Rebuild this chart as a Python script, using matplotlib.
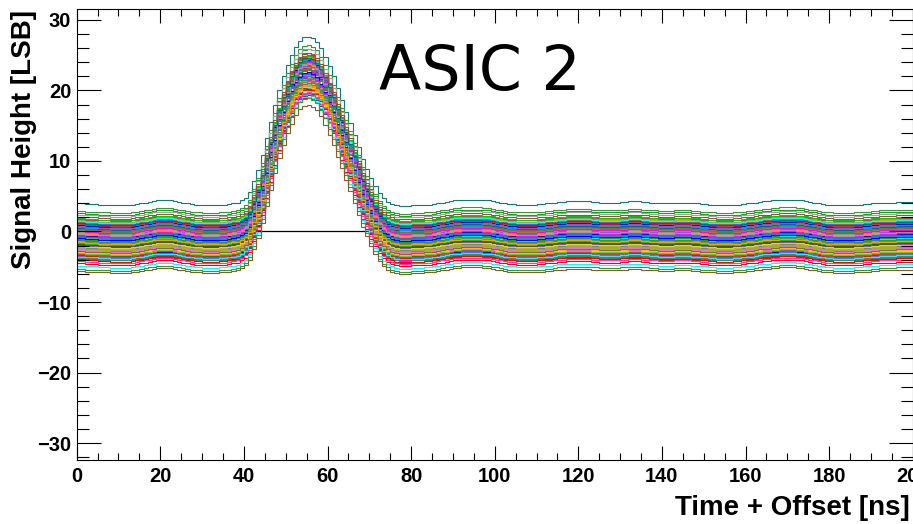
import numpy as np
import matplotlib
matplotlib.use("Agg")
from matplotlib import pyplot as plt
from matplotlib.ticker import MultipleLocator

# bin edges, 1 ns bins
edges = np.arange(0, 201, 1)

# reference waveform (LSB), baseline 0
ref = [
    0.0, 0.0, -0.1, -0.1, -0.1, -0.2, -0.2, -0.2, -0.3, -0.3,
    -0.3, -0.3, -0.3, -0.2, -0.1, 0.0, 0.1, 0.2, 0.3, 0.4,
    0.4, 0.4, 0.4, 0.3, 0.2, 0.1, 0.0, -0.1, -0.2, -0.2,
    -0.3, -0.3, -0.3, -0.3, -0.2, -0.2, -0.1, 0.0, 0.1, 0.4,
    0.8, 1.6, 3.1, 4.7, 6.8, 9.2, 11.5, 13.9, 16.0, 17.9,
    19.5, 20.9, 22.1, 22.9, 23.4, 23.5, 23.3, 22.8, 21.9, 20.7,
    19.3, 17.9, 16.2, 14.6, 12.9, 11.3, 9.6, 8.0, 6.3, 4.9,
    3.5, 2.4, 1.4, 0.7, 0.2, -0.1, -0.3, -0.4, -0.4, -0.4,
    -0.3, -0.3, -0.3, -0.2, -0.2, -0.1, 0.0, 0.1, 0.2, 0.3,
    0.4, 0.4, 0.5, 0.5, 0.5, 0.5, 0.5, 0.4, 0.4, 0.3,
    0.2, 0.1, 0.0, -0.1, -0.1, -0.2, -0.2, -0.2, -0.2, -0.2,
    -0.1, -0.1, 0.0, 0.0, 0.1, 0.2, 0.2, 0.3, 0.3, 0.3,
    0.3, 0.3, 0.3, 0.2, 0.2, 0.1, 0.1, 0.1, 0.1, 0.1,
    0.2, 0.2, 0.3, 0.3, 0.3, 0.2, 0.2, 0.1, 0.1, 0.0,
    0.0, 0.0, 0.0, 0.1, 0.1, 0.1, 0.1, 0.0, 0.0, -0.1,
    -0.1, -0.2, -0.2, -0.3, -0.3, -0.3, -0.3, -0.2, -0.2, -0.1,
    0.0, 0.0, 0.1, 0.2, 0.3, 0.3, 0.4, 0.4, 0.5, 0.5,
    0.5, 0.5, 0.4, 0.4, 0.3, 0.2, 0.1, 0.0, -0.1, -0.2,
    -0.2, -0.3, -0.3, -0.3, -0.3, -0.3, -0.2, -0.2, -0.1, -0.1,
    0.0, 0.0, 0.1, 0.1, 0.1, 0.1, 0.2, 0.2, 0.2, 0.2,
]

# outermost channels (easy to pick out)
outer_base = [4.0, 2.9, 2.6, 2.4, 2.1, -4.2, -4.5, -4.85, -5.3, -5.6]
outer_gain = [1.005, 1.0, 0.99, 1.0, 0.985, 1.02, 1.0, 1.02, 1.03, 1.0]
outer_color = ["#127878", "#2e9e2e", "#229922", "#a0a0a0", "#8b5a2b",
               "#ff33cc", "#ff0000", "#00ffff", "#2e9e2e", "#8b5a2b"]

# the dense band
mid_base = [0.3, -1.2, 1.1, -2.6, -0.4, 0.9, -3.1, -1.8, 0.6, -2.2,
            1.5, -0.9, -3.5, 0.1, -1.5, -2.9, 1.3, -0.6, -2.0, 0.8,
            -3.3, -1.1, 0.4, -2.4, -0.2, 1.0, -3.8, -1.7, 0.0, -2.7,
            1.4, -0.8, -2.1, 0.5, -3.0, -1.3, 0.7, -2.5, -0.3, 1.2,
            -3.6, -1.9, 0.2, -2.8, -0.7, 1.6, -1.4, -3.2, 0.9, -2.3,
            -0.5, -1.0, 0.3, -2.6, -3.4, 1.1, -1.6, -0.1, -2.0, 0.6,
            -3.7, -1.2, 1.3, -2.9, -0.4, -1.8, 0.0, -2.4, -3.1, 0.8,
            -0.9, -1.5, 1.0, -2.2, -0.6, -3.0, 0.4, -1.1, -2.7, -0.2,
            1.75, -0.05, -2.15, 0.55, -3.25, -1.35, 1.25, -2.55, -0.75, 0.15,
            -3.95, -1.65, 0.85, -2.85, -0.45, 1.45, -1.05, -3.45, 0.35, -2.35,
            -0.25, -1.85, 1.05, -3.05, -0.65, -2.65, 0.65, -1.45, -4.0, 1.85,
            -0.95, -2.05, 0.05, -3.55, -1.25, 0.75, -2.75, -0.35, -1.55, 1.15]
mid_gain = [0.98, 1.01, 0.96, 1.03, 0.99, 1.02, 0.97, 1.04, 0.95, 1.0,
            0.99, 0.97, 1.05, 1.01, 0.96, 1.02, 0.98, 1.03, 0.94, 1.0,
            1.04, 0.98, 1.01, 0.96, 1.03, 0.97, 1.05, 0.99, 1.02, 0.95,
            1.0, 1.04, 0.97, 0.99, 1.03, 0.96, 1.01, 0.98, 1.04, 0.97,
            1.02, 0.95, 1.0, 1.03, 0.98, 0.99, 1.01, 0.96, 1.04, 0.97,
            1.02, 0.99, 0.94, 1.01, 1.03, 0.98, 0.96, 1.02, 1.0, 0.97,
            1.04, 0.99, 1.01, 0.95, 1.03, 0.98, 1.0, 0.97, 1.02, 0.96,
            1.04, 0.99, 1.0, 0.98, 1.03, 0.97, 1.01, 0.95, 1.02, 0.99,
            0.97, 1.02, 0.99, 0.96, 1.04, 1.0, 0.98, 1.03, 0.95, 1.01,
            1.05, 0.97, 1.0, 1.02, 0.96, 0.99, 1.03, 0.98, 1.01, 0.97,
            1.02, 0.95, 1.0, 1.04, 0.98, 0.99, 1.01, 0.97, 1.03, 0.98,
            1.0, 0.96, 1.02, 1.04, 0.99, 0.97, 1.01, 1.03, 0.95, 1.0]
palette = ["#ff0000", "#00cc00", "#0000ff", "#ffcc00", "#ff00ff", "#00ffff",
           "#339933", "#6666dd", "#996633", "#999999", "#ff9900", "#006b6b",
           "#cc3366", "#66cc33", "#3366ff", "#ff66cc", "#00aaaa", "#aa7744"]

fig = plt.figure(figsize=(9.13, 5.24), dpi=100)
ax = fig.add_axes([0.084, 0.1221, 0.9157, 0.8602])

ref = np.array(ref)
# empty first histogram, drawn in black underneath everything
ax.stairs(np.zeros(len(ref)), edges, color="black", lw=0.9, baseline=None)
for i, (b, g) in enumerate(zip(mid_base, mid_gain)):
    ax.stairs(b + g * ref, edges, color=palette[i % len(palette)], lw=0.8, baseline=None)
for b, g, c in zip(outer_base, outer_gain, outer_color):
    ax.stairs(b + g * ref, edges, color=c, lw=0.8, baseline=None)

ax.set_xlim(0, 200)
ax.set_ylim(-32.4, 31.5)
ax.xaxis.set_major_locator(MultipleLocator(20))
ax.xaxis.set_minor_locator(MultipleLocator(5))
ax.yaxis.set_major_locator(MultipleLocator(10))
ax.yaxis.set_minor_locator(MultipleLocator(2))
ax.tick_params(axis="x", which="major", direction="in", length=10, width=0.8,
               top=True, pad=5, labelsize=14.5)
ax.tick_params(axis="x", which="minor", direction="in", length=5, width=0.8, top=True)
ax.tick_params(axis="y", which="major", direction="in", length=17, width=0.8,
               right=True, pad=4, labelsize=14.5)
ax.tick_params(axis="y", which="minor", direction="in", length=8.6, width=0.8, right=True)
for lab in ax.get_xticklabels() + ax.get_yticklabels():
    lab.set_fontfamily("Liberation Sans")
    lab.set_fontweight("bold")
for sp in ax.spines.values():
    sp.set_linewidth(0.8)

fig.text(910 / 913, 1 - 515 / 524, "Time + Offset [ns]", ha="right", va="baseline",
         fontsize=20, fontweight="bold", family="Liberation Sans")
fig.text(11 / 913, 1 - 10 / 524, "Signal Height [LSB]", ha="left", va="top",
         rotation=90, fontsize=20, fontweight="bold", family="Liberation Sans")
fig.text(379 / 913, 1 - 90 / 524, "ASIC 2", ha="left", va="baseline",
         fontsize=44.5, family="DejaVu Sans")

fig.savefig("out.png", dpi=100)
